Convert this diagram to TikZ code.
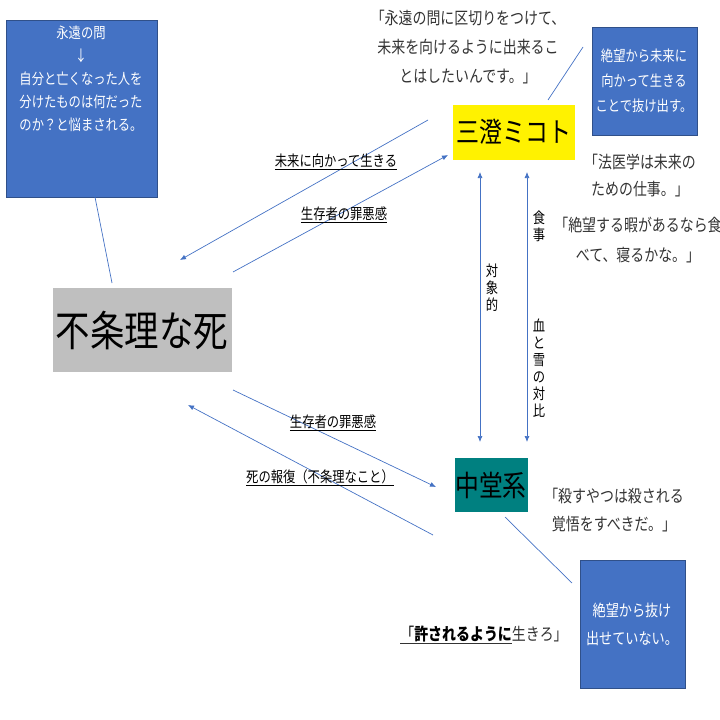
\documentclass[tikz,border=0pt]{standalone}
\usepackage{fontspec}
\setmainfont{Noto Sans CJK JP}[FakeStretch=0.82]
\usetikzlibrary{arrows.meta}
\definecolor{ln}{RGB}{68,114,196}
\definecolor{bx}{RGB}{68,114,196}
\definecolor{tl}{RGB}{0,128,128}
\tikzset{
 conn/.style={draw=ln,line width=0.7pt},
 arr/.style={conn,-{Latex[length=6pt,width=5pt]}},
 bbox/.style={fill=bx,draw=bx!70!black,text=white,font=\fontsize{14}{24}\selectfont,align=center,inner sep=0pt},
 quote/.style={font=\fontsize{17}{29}\selectfont,align=center,text=black!80},
 lab/.style={font=\fontsize{15}{16}\selectfont},
 vlab/.style={font=\fontsize{15}{17}\selectfont,align=center,inner sep=0pt},
}
\begin{document}
\begin{tikzpicture}[x=1pt,y=-1pt]
\useasboundingbox (0,0) rectangle (720,720);
\node[bbox,minimum width=151pt,minimum height=177pt,anchor=north west,text depth=0pt] (b1) at (6,20) {};
\node[text=white,font=\fontsize{15}{23}\selectfont,align=center,anchor=north] (b1t) at (81,22) {永遠の問\\↓\\自分と亡くなった人を\\分けたものは何だった\\のか？と悩まされる。};
\node[fill=black!25,minimum width=179pt,minimum height=84pt,anchor=north west,inner sep=0pt] (fj) at (53,288) {};
\node[font=\fontsize{42}{44}\selectfont] (fjt) at (142,330) {不条理な死};
\node[fill=yellow,minimum width=122pt,minimum height=55pt,anchor=north west,inner sep=0pt] (mi) at (453,105) {};
\node[font=\fontsize{28}{30}\selectfont] (mit) at (514,132) {三澄ミコト};
\node[fill=tl,minimum width=73pt,minimum height=54pt,anchor=north west,inner sep=0pt] (nk) at (455,458) {};
\node[font=\fontsize{29}{31}\selectfont] (nkt) at (491,485) {中堂系};
\node[bbox,minimum width=105pt,minimum height=108pt,anchor=north west] (b2) at (592,27) {};
\node[text=white,font=\fontsize{15}{25}\selectfont,align=center] (b2t) at (644,81) {絶望から未来に\\向かって生きる\\ことで抜け出す。};
\node[bbox,minimum width=105pt,minimum height=128pt,anchor=north west] (b3) at (580,560) {};
\node[text=white,font=\fontsize{16}{28}\selectfont,align=center] (b3t) at (632,624) {絶望から抜け\\出せていない。};
% lines
\coordinate (l1a) at (95,197); \coordinate (l1b) at (112,283);
\draw[conn] (l1a) -- (l1b);
\coordinate (l2a) at (548,100); \coordinate (l2b) at (583,47);
\draw[conn] (l2a) -- (l2b);
\coordinate (l3a) at (505,517); \coordinate (l3b) at (572,583);
\draw[conn] (l3a) -- (l3b);
% arrows
\coordinate (a1s) at (428,120); \coordinate (a1e) at (180,260);
\draw[arr] (a1s) -- (a1e);
\coordinate (a2s) at (233,272); \coordinate (a2e) at (448,155);
\draw[arr] (a2s) -- (a2e);
\coordinate (a3s) at (233,390); \coordinate (a3e) at (436,487);
\draw[arr] (a3s) -- (a3e);
\coordinate (a4s) at (433,535); \coordinate (a4e) at (188,405);
\draw[arr] (a4s) -- (a4e);
\coordinate (v1a) at (480,442); \coordinate (v1b) at (480,172);
\draw[arr,{Latex[length=6pt,width=5pt]}-{Latex[length=6pt,width=5pt]}] (v1a) -- (v1b);
\coordinate (v2a) at (527,442); \coordinate (v2b) at (527,172);
\draw[arr,{Latex[length=6pt,width=5pt]}-{Latex[length=6pt,width=5pt]}] (v2a) -- (v2b);
% labels
\node[lab] (t1) at (336,162) {\underline{未来に向かって生きる}};
\node[lab] (t2) at (344,215) {\underline{生存者の罪悪感}};
\node[lab] (t3) at (333,423) {\underline{生存者の罪悪感}};
\node[lab] (t4) at (320,478) {\underline{死の報復（不条理なこと）}};
\node[vlab] (t5) at (492,288) {対\\象\\的};
\node[vlab] (t6) at (539,226) {食\\事};
\node[vlab] (t7) at (539,368) {血\\と\\雪\\の\\対\\比};
% quotes
\node[quote] (q1) at (468,47) {「永遠の問に区切りをつけて、\\未来を向けるように出来るこ\\とはしたいんです。」};
\node[quote,font=\fontsize{17}{27}\selectfont] (q2) at (640,176) {「法医学は未来の\\ための仕事。」};
\node[quote,font=\fontsize{17}{30}\selectfont] (q3) at (638,240) {「絶望する暇があるなら食\\べて、寝るかな。」};
\node[quote,font=\fontsize{17}{28}\selectfont] (q4) at (614,510) {「殺すやつは殺される\\覚悟をすべきだ。」};
\node[quote] (q5) at (484,635) {\underline{\textcolor{black}{「\textbf{許されるように}}}生きろ」};
\end{tikzpicture}
\end{document}
